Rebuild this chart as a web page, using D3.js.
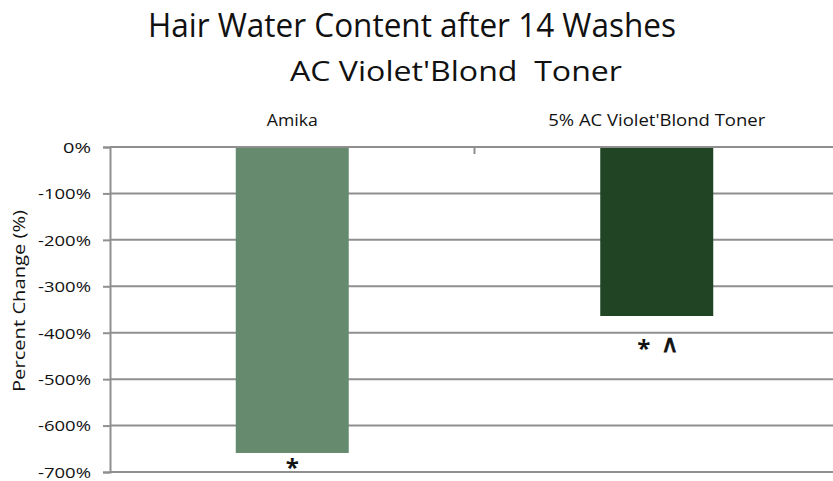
<!DOCTYPE html>
<html>
<head>
<meta charset="utf-8">
<script src="https://cdn.jsdelivr.net/npm/d3@7"></script>
<style>
  body { margin: 0; background: #fff; }
  svg { display: block; }
  text { font-family: "Open Sans", sans-serif; fill: #111; }
</style>
</head>
<body>
<svg id="chart" width="833" height="481"></svg>
<script>
const categories = ["Amika", "5% AC Violet'Blond Toner"];
const values = [-659, -364];
const marks = ["*", "* ^"];
const yTicks = [0, -100, -200, -300, -400, -500, -600, -700];
const colors = ["#668a6e", "#214424"];

const svg = d3.select("#chart");
const margin = { top: 147, left: 110 };
const width = 729, height = 325;
const g = svg.append("g").attr("transform", "translate(" + margin.left + "," + margin.top + ")");

const x = d3.scaleBand().domain(categories).range([0, width]).paddingInner(0).paddingOuter(0);
const y = d3.scaleLinear().domain([0, -700]).range([0, height]);
const barW = x.bandwidth() * 0.31;
const markOffset = [23, 41];

// gridlines
g.selectAll(".grid")
  .data(yTicks)
  .enter()
  .append("line")
  .attr("x1", 0)
  .attr("x2", width)
  .attr("y1", d => y(d))
  .attr("y2", d => y(d))
  .attr("stroke", "#8f8f8f")
  .attr("stroke-width", 2);

// y axis
const yAxis = g.append("g")
  .call(d3.axisLeft(y).tickValues(yTicks).tickSize(7).tickPadding(12).tickFormat(d => d + "%"));
yAxis.select(".domain").attr("stroke", "#8f8f8f").attr("stroke-width", 2);
yAxis.selectAll(".tick line").attr("stroke", "#8f8f8f").attr("stroke-width", 2);
yAxis.selectAll(".tick text")
  .style("font-family", "'Open Sans', sans-serif")
  .style("font-size", "15px")
  .attr("fill", "#111")
  .attr("dy", "0.36em")
  .attr("textLength", d => d === 0 ? 28 : 53)
  .attr("lengthAdjust", "spacingAndGlyphs");

// category divider tick on the zero line
g.selectAll(".div")
  .data(categories.slice(1))
  .enter()
  .append("line")
  .attr("x1", d => x(d))
  .attr("x2", d => x(d))
  .attr("y1", 0)
  .attr("y2", 7)
  .attr("stroke", "#8f8f8f")
  .attr("stroke-width", 2);

// bars
g.selectAll(".bar")
  .data(values)
  .enter()
  .append("rect")
  .attr("x", (d, i) => x(categories[i]) + x.bandwidth() / 2 - barW / 2)
  .attr("y", y(0) + 1)
  .attr("width", barW)
  .attr("height", d => y(d) - y(0) - 1)
  .attr("fill", (d, i) => colors[i]);

// category labels at top
g.selectAll(".cat")
  .data(categories)
  .enter()
  .append("text")
  .attr("x", d => x(d) + x.bandwidth() / 2)
  .attr("y", -21)
  .attr("text-anchor", "middle")
  .style("font-size", "16px")
  .attr("textLength", (d, i) => i === 0 ? 51 : 217)
  .attr("lengthAdjust", "spacingAndGlyphs")
  .text(d => d);

// significance marks, one text per symbol
values.forEach((v, i) => {
  const syms = marks[i].split(" ");
  const cx = x(categories[i]) + x.bandwidth() / 2;
  syms.forEach((s, j) => {
    const caret = s === "^";
    g.append("text")
      .attr("x", cx + (j - (syms.length - 1) / 2) * 26)
      .attr("y", y(v) + markOffset[i] + (caret ? -5 : 0))
      .attr("text-anchor", "middle")
      .style("font-size", "24px")
      .style("font-weight", caret ? "normal" : "bold")
      .style("font-family", caret ? "'DejaVu Sans', sans-serif" : "'Open Sans', sans-serif")
      .style("stroke", caret ? "#111" : "none")
      .style("stroke-width", caret ? 0.8 : 0)
      .text(caret ? "\u2227" : s);
  });
});

// y axis title
svg.append("text")
  .attr("transform", "translate(25,301) rotate(-90)")
  .attr("text-anchor", "middle")
  .style("font-size", "17px")
  .attr("textLength", 182)
  .attr("lengthAdjust", "spacingAndGlyphs")
  .text("Percent Change (%)");

// titles
svg.append("text")
  .attr("x", 412)
  .attr("y", 37)
  .attr("text-anchor", "middle")
  .style("font-size", "33px")
  .attr("textLength", 528)
  .attr("lengthAdjust", "spacingAndGlyphs")
  .text("Hair Water Content after 14 Washes");

svg.append("text")
  .attr("x", 456)
  .attr("y", 81)
  .attr("text-anchor", "middle")
  .style("font-size", "28px")
  .style("white-space", "pre")
  .attr("textLength", 332)
  .attr("lengthAdjust", "spacingAndGlyphs")
  .text("AC Violet'Blond  Toner");
</script>
</body>
</html>
